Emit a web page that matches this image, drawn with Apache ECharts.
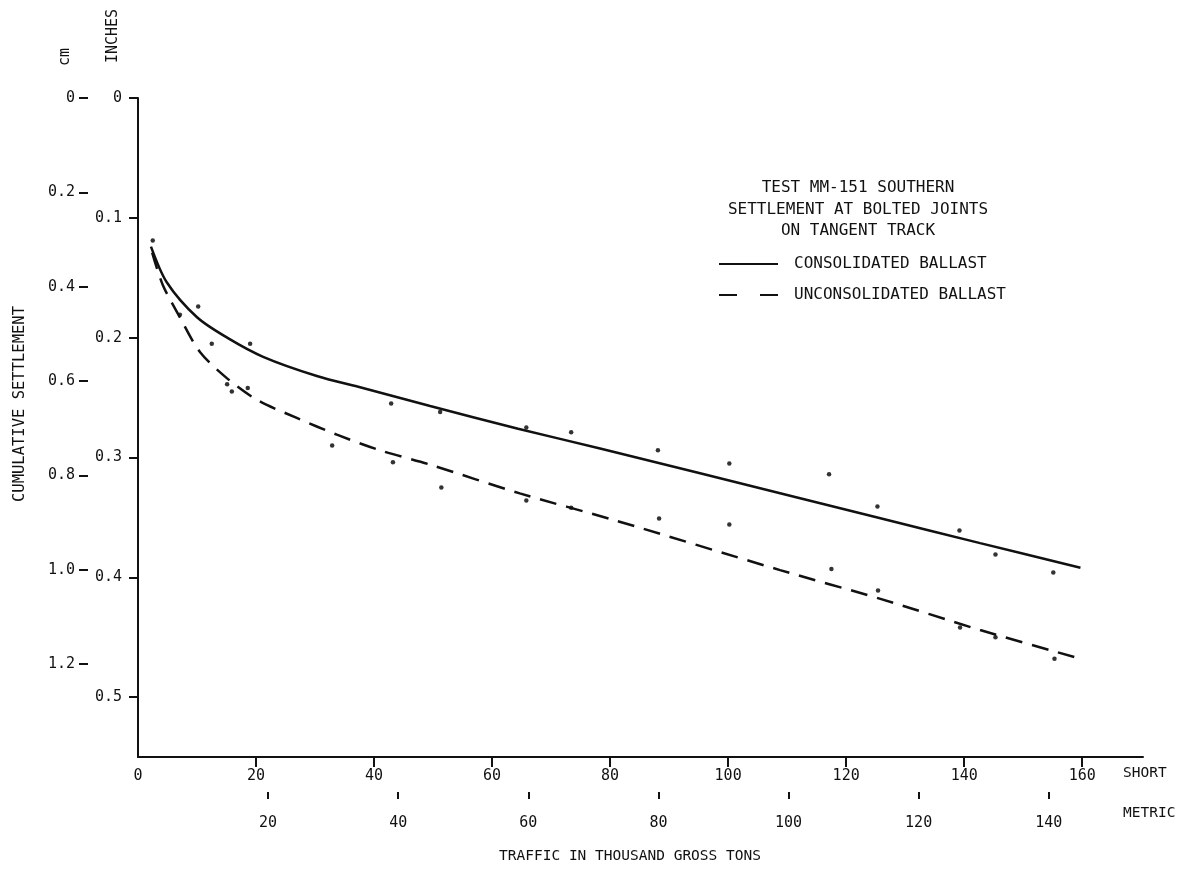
<!DOCTYPE html>
<html><head><meta charset="utf-8">
<script src="https://cdn.jsdelivr.net/npm/echarts@6/dist/echarts.min.js"></script>
<style>html,body{margin:0;padding:0;background:#fff}#c{width:1191px;height:870px}</style>
</head><body><div id="c"></div>
<script>
// x: traffic in thousand gross tons (short); y: cumulative settlement (inches)
const consolidatedCurve = [[2.2,0.124],[4.9,0.154],[10.0,0.183],[15.1,0.200],[21.2,0.216],[30.3,0.232],[38.1,0.242],[49.5,0.257],[64.4,0.276],[78.3,0.2925],[112.2,0.334],[125.8,0.3507],[142.7,0.3715],[159.7,0.392]];
const unconsolidatedCurve = [[2.4,0.129],[4.2,0.156],[7.1,0.183],[10.5,0.212],[15.1,0.234],[20.2,0.252],[26.9,0.267],[33.7,0.281],[41.0,0.294],[49.5,0.306],[64.7,0.330],[80.5,0.352],[108.8,0.394],[125.8,0.418],[142.7,0.444],[159.7,0.468]];
const consolidatedPoints = [[2.5,0.119],[10.2,0.174],[19.0,0.205],[42.9,0.255],[51.2,0.262],[65.8,0.275],[73.4,0.279],[88.1,0.294],[100.2,0.305],[117.1,0.314],[125.3,0.341],[139.2,0.361],[145.3,0.381],[155.1,0.396]];
const unconsolidatedPoints = [[7.1,0.181],[12.5,0.205],[15.1,0.239],[15.9,0.245],[18.6,0.242],[32.9,0.290],[43.2,0.304],[51.4,0.325],[65.8,0.336],[73.4,0.342],[88.3,0.351],[100.2,0.356],[117.5,0.393],[125.4,0.411],[139.3,0.442],[145.3,0.450],[155.3,0.468]];
const inchTicks = [0,0.1,0.2,0.3,0.4,0.5];
const cmTicks = [0,0.2,0.4,0.6,0.8,1.0,1.2];
const shortTicks = [20,40,60,80,100,120,140,160];
const shortLabels = [0,20,40,60,80,100,120,140,160];
const metricTicks = [20,40,60,80,100,120,140];
const titleLines = ['TEST MM-151 SOUTHERN','SETTLEMENT AT BOLTED JOINTS','ON TANGENT TRACK'];
const seriesNames = ['CONSOLIDATED BALLAST','UNCONSOLIDATED BALLAST'];

const FONT = "'DejaVu Sans Mono', monospace";
const INK = '#111';
const X_MAX = 170.3;
const Y_MAX_IN = 0.55;
const TON = 1.10231;
const fmt = v => v === 0 ? '0' : v.toFixed(1);

const chart = echarts.init(document.getElementById('c'), null, {renderer:'canvas'});
chart.setOption({
  backgroundColor:'#fff',
  animation:false,
  textStyle:{fontFamily:FONT},
  grid:{left:138, top:98, right:48, bottom:113, containLabel:false},
  legend:{
    show:true, orient:'vertical', left:713, top:251, itemWidth:59, itemHeight:14, itemGap:15,
    data:[{name:seriesNames[0]}, {name:seriesNames[1], lineStyle:{type:[18,23]}}],
    itemStyle:{opacity:0},
    textStyle:{fontFamily:FONT, fontSize:16, color:INK, padding:[0,0,0,11]}
  },
  xAxis:[
    {type:'value', position:'bottom', min:0, max:X_MAX,
      axisLine:{show:true, onZero:false, lineStyle:{color:INK, width:2}},
      axisTick:{show:true, length:10, customValues:shortTicks, lineStyle:{color:INK, width:2}},
      axisLabel:{show:true, customValues:shortLabels, margin:12, fontSize:15, color:INK, fontFamily:FONT},
      splitLine:{show:false}},
    {type:'value', position:'bottom', offset:35, min:0, max:X_MAX/TON,
      axisLine:{show:false, onZero:false},
      axisTick:{show:true, length:7, customValues:metricTicks, lineStyle:{color:INK, width:2}},
      axisLabel:{show:true, customValues:metricTicks, margin:24, fontSize:15, color:INK, fontFamily:FONT},
      splitLine:{show:false}}
  ],
  yAxis:[
    {type:'value', position:'left', min:0, max:Y_MAX_IN, inverse:true,
      axisLine:{show:true, onZero:false, lineStyle:{color:INK, width:2}},
      axisTick:{show:true, length:9, customValues:inchTicks, lineStyle:{color:INK, width:2}},
      axisLabel:{show:true, customValues:inchTicks, formatter:fmt, margin:16, fontSize:15, color:INK, fontFamily:FONT},
      splitLine:{show:false}},
    {type:'value', position:'left', offset:59, min:0, max:Y_MAX_IN*2.54, inverse:true,
      axisLine:{show:false, onZero:false},
      axisTick:{show:true, inside:true, length:9, customValues:cmTicks, lineStyle:{color:INK, width:2}},
      axisLabel:{show:true, customValues:cmTicks, formatter:fmt, margin:4, fontSize:15, color:INK, fontFamily:FONT},
      splitLine:{show:false}}
  ],
  series:[
    {name:seriesNames[0], type:'line', data:consolidatedCurve, smooth:0.3, symbol:'none',
      lineStyle:{color:INK, width:2.5, type:'solid'}, itemStyle:{color:INK}},
    {name:seriesNames[1], type:'line', data:unconsolidatedCurve, smooth:0.3, symbol:'none',
      lineStyle:{color:INK, width:2.5, type:[17,10]}, itemStyle:{color:INK}},
    {name:'consolidated points', type:'scatter', data:consolidatedPoints, symbol:'circle', symbolSize:4.5,
      itemStyle:{color:'#000'}},
    {name:'unconsolidated points', type:'scatter', data:unconsolidatedPoints, symbol:'circle', symbolSize:4.5,
      itemStyle:{color:'#000'}}
  ],
  graphic:[
    {type:'text', x:65, y:57, rotation:Math.PI/2, style:{text:'cm', fontFamily:FONT, fontSize:15, fill:INK, align:'center', verticalAlign:'middle'}},
    {type:'text', x:113, y:36, rotation:Math.PI/2, style:{text:'INCHES', fontFamily:FONT, fontSize:15, fill:INK, align:'center', verticalAlign:'middle'}},
    {type:'text', x:20, y:404, rotation:Math.PI/2, style:{text:'CUMULATIVE SETTLEMENT', fontFamily:FONT, fontSize:15.5, fill:INK, align:'center', verticalAlign:'middle'}},
    {type:'text', x:630, y:856, style:{text:'TRAFFIC IN THOUSAND GROSS TONS', fontFamily:FONT, fontSize:14.5, fill:INK, align:'center', verticalAlign:'middle'}},
    {type:'text', x:1123, y:773, style:{text:'SHORT', fontFamily:FONT, fontSize:14.5, fill:INK, align:'left', verticalAlign:'middle'}},
    {type:'text', x:1123, y:813, style:{text:'METRIC', fontFamily:FONT, fontSize:14.5, fill:INK, align:'left', verticalAlign:'middle'}},
    {type:'text', x:858, y:188, style:{text:titleLines[0], fontFamily:FONT, fontSize:16, fill:INK, align:'center', verticalAlign:'middle'}},
    {type:'text', x:858, y:210, style:{text:titleLines[1], fontFamily:FONT, fontSize:16, fill:INK, align:'center', verticalAlign:'middle'}},
    {type:'text', x:858, y:231, style:{text:titleLines[2], fontFamily:FONT, fontSize:16, fill:INK, align:'center', verticalAlign:'middle'}}
  ]
});
</script></body></html>
